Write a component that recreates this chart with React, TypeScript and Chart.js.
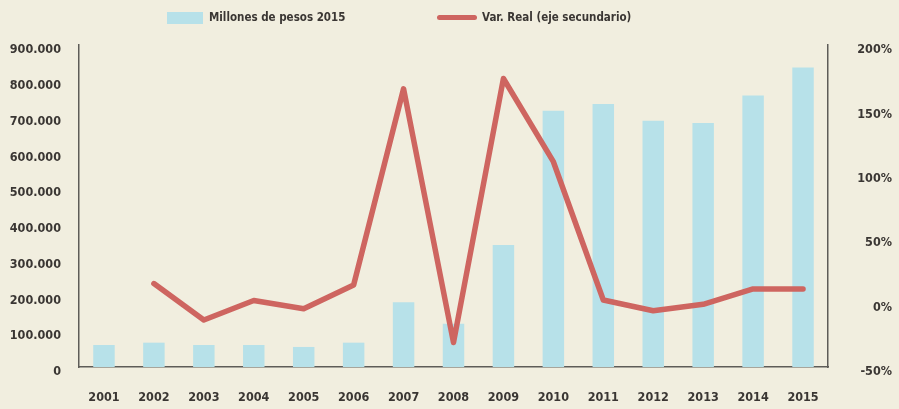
import React, { useEffect, useRef } from 'react';
import { Chart, registerables } from 'chart.js';

Chart.register(...registerables);

const years = ['2001', '2002', '2003', '2004', '2005', '2006', '2007', '2008', '2009', '2010', '2011', '2012', '2013', '2014', '2015'];
const millonesPesos2015 = [61500, 68000, 61500, 61500, 56000, 68000, 181000, 121000, 341000, 716000, 735000, 688000, 682000, 759000, 837000];
const varReal: (number | null)[] = [null, 14.8, -13.5, 1.6, -4.8, 13.7, 166, -31, 174, 109.4, 2, -6.3, -1.3, 10.6, 10.6];

const leftMin = 0;
const leftMax = 900000;
const leftStep = 100000;
const rightMin = -50;
const rightMax = 200;
const rightStep = 50;

const barLabel = 'Millones de pesos 2015';
const lineLabel = 'Var. Real (eje secundario)';

const BG = '#f1eedf';
const BAR = '#b7e1e9';
const LINE = '#ce6560';
const TEXT = '#3a3633';
const AXIS = '#5e5c58';
const FONT = "'DejaVu Sans Condensed', 'Liberation Sans Narrow', sans-serif";

const fmtThousands = (v: number) => String(Math.round(v)).replace(/\B(?=(\d{3})+(?!\d))/g, '.');

export default function App() {
  const ref = useRef<HTMLCanvasElement | null>(null);

  useEffect(() => {
    if (!ref.current) return;
    const tickFont = { family: FONT, size: 12.5, weight: 'bold' as const };
    const chart = new Chart(ref.current, {
      data: {
        labels: years,
        datasets: [
          {
            type: 'bar',
            label: barLabel,
            data: millonesPesos2015,
            backgroundColor: BAR,
            borderWidth: 0,
            yAxisID: 'y',
            order: 1,
            categoryPercentage: 1,
            barPercentage: 0.43,
          },
          {
            type: 'line',
            label: lineLabel,
            data: varReal,
            borderColor: LINE,
            backgroundColor: LINE,
            borderWidth: 5.5,
            borderJoinStyle: 'round',
            borderCapStyle: 'round',
            pointRadius: 0,
            tension: 0,
            yAxisID: 'y1',
            order: 0,
          },
        ],
      } as any,
      options: {
        responsive: false,
        animation: false,
        layout: { padding: { top: 45, left: 0, right: 7, bottom: 0 } },
        plugins: { legend: { display: false }, tooltip: { enabled: false } },
        scales: {
          x: {
            type: 'category',
            offset: true,
            grid: { display: false, drawTicks: false },
            border: { display: true, color: AXIS, width: 1.5 },
            ticks: { color: TEXT, font: tickFont, padding: 23, maxRotation: 0 },
            afterFit: (s: any) => { s.height = 42; },
          },
          y: {
            type: 'linear',
            position: 'left',
            min: leftMin,
            max: leftMax,
            grid: { display: false, drawTicks: false },
            border: { display: true, color: AXIS, width: 1.5 },
            ticks: {
              stepSize: leftStep,
              color: TEXT,
              font: tickFont,
              padding: 18,
              labelOffset: 5,
              callback: (v: any) => fmtThousands(Number(v)),
            },
            afterFit: (s: any) => { s.width = 79; },
          },
          y1: {
            type: 'linear',
            position: 'right',
            min: rightMin,
            max: rightMax,
            grid: { display: false, drawTicks: false },
            border: { display: true, color: AXIS, width: 1.5 },
            ticks: {
              stepSize: rightStep,
              color: TEXT,
              font: tickFont,
              padding: 24,
              labelOffset: 5,
              crossAlign: 'far',
              callback: (v: any) => `${v}%`,
            },
            afterFit: (s: any) => { s.width = 64; },
          },
        },
      } as any,
    });
    return () => chart.destroy();
  }, []);

  const legendText: React.CSSProperties = {
    position: 'absolute',
    top: 8,
    height: 18,
    lineHeight: '18px',
    fontFamily: FONT,
    fontWeight: 'bold',
    fontSize: 11.5,
    color: TEXT,
    whiteSpace: 'nowrap',
  };

  return (
    <div style={{ position: 'absolute', left: 0, top: 0, width: 899, height: 409, background: BG, overflow: 'hidden' }}>
      <canvas ref={ref} width={899} height={409} style={{ display: 'block', width: 899, height: 409 }} />
      <div style={{ position: 'absolute', left: 167, top: 12, width: 36, height: 12, background: BAR }} />
      <div style={{ ...legendText, left: 209 }}>{barLabel}</div>
      <div style={{ position: 'absolute', left: 437, top: 15, width: 40, height: 5, borderRadius: 3, background: LINE }} />
      <div style={{ ...legendText, left: 482 }}>{lineLabel}</div>
    </div>
  );
}
